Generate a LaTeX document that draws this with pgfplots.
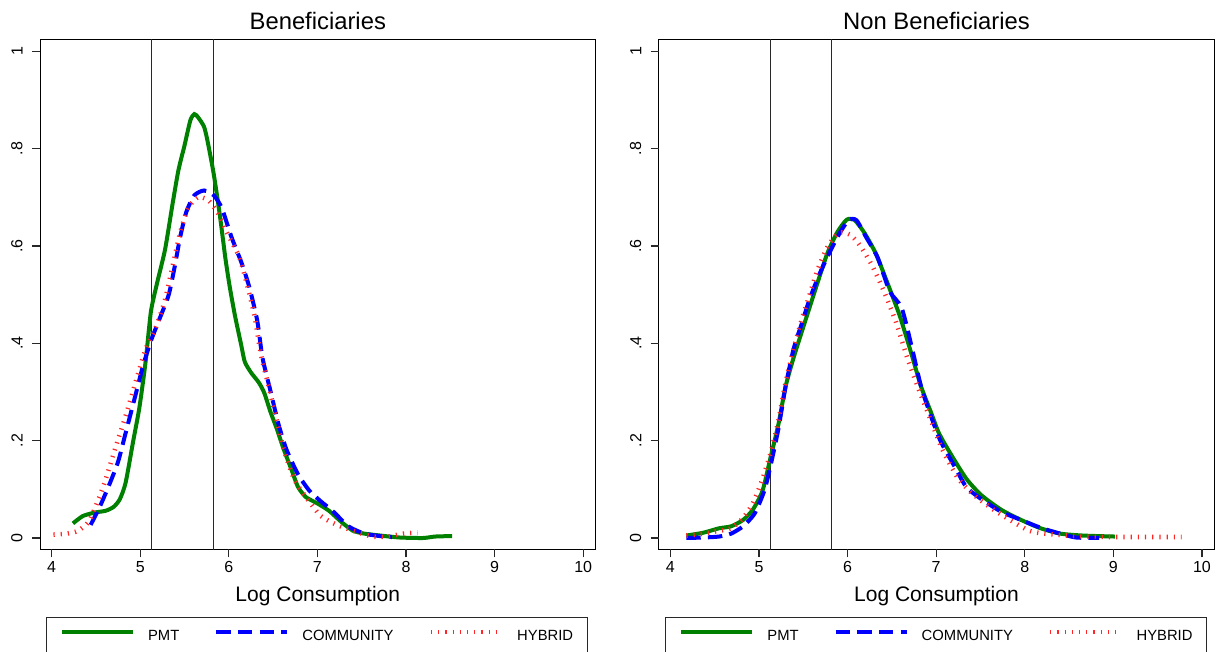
\documentclass[border=0pt]{standalone}
\usepackage{pgfplots}
\pgfplotsset{compat=1.18}
\usepackage{pgfplotstable}
\usepackage{fontspec}
\setmainfont{Liberation Sans}

\definecolor{stgreen}{RGB}{0,128,0}
\definecolor{stblue}{RGB}{0,0,255}
\definecolor{stred}{RGB}{255,0,0}
\definecolor{framegray}{RGB}{40,40,40}

% left panel: beneficiaries
\pgfplotstableread{
x y
4.24 0.030
4.35 0.045
4.48 0.052
4.61 0.056
4.70 0.064
4.77 0.080
4.835 0.114
4.92 0.199
4.99 0.268
5.06 0.362
5.12 0.465
5.19 0.524
5.28 0.593
5.365 0.687
5.43 0.755
5.50 0.807
5.565 0.858
5.61 0.871
5.65 0.865
5.72 0.845
5.76 0.815
5.83 0.747
5.90 0.661
5.96 0.576
6.01 0.516
6.07 0.456
6.14 0.396
6.18 0.362
6.25 0.340
6.34 0.319
6.40 0.298
6.47 0.259
6.54 0.225
6.62 0.182
6.71 0.139
6.78 0.105
6.87 0.084
7.00 0.071
7.13 0.056
7.27 0.033
7.40 0.015
7.53 0.009
7.71 0.005
7.93 0.001
8.19 0.000
8.33 0.003
8.52 0.004
}\benpmt

\pgfplotstableread{
x y
4.44 0.027
4.55 0.067
4.66 0.114
4.75 0.157
4.835 0.216
4.945 0.293
5.03 0.353
5.12 0.405
5.21 0.447
5.32 0.499
5.39 0.559
5.45 0.618
5.52 0.670
5.61 0.704
5.72 0.714
5.83 0.704
5.92 0.678
6.03 0.618
6.14 0.567
6.23 0.516
6.32 0.447
6.38 0.370
6.47 0.302
6.56 0.234
6.65 0.182
6.78 0.131
6.91 0.097
7.04 0.075
7.18 0.054
7.35 0.024
7.53 0.009
7.75 0.003
7.84 0.002
}\bencom

\pgfplotstableread{
x y
4.02 0.007
4.17 0.009
4.30 0.015
4.415 0.033
4.50 0.067
4.59 0.110
4.70 0.174
4.835 0.251
4.945 0.319
5.06 0.388
5.17 0.430
5.28 0.490
5.365 0.559
5.45 0.627
5.54 0.678
5.65 0.700
5.76 0.695
5.87 0.670
5.98 0.627
6.12 0.576
6.20 0.524
6.29 0.456
6.36 0.379
6.45 0.311
6.54 0.242
6.62 0.182
6.735 0.122
6.87 0.084
7.04 0.045
7.22 0.027
7.40 0.015
7.62 0.003
7.80 0.003
7.97 0.009
8.13 0.011
}\benhyb

% right panel: non beneficiaries
\pgfplotstableread{
x y
4.18 0.005
4.375 0.011
4.55 0.020
4.685 0.024
4.82 0.037
4.93 0.058
5.04 0.097
5.13 0.165
5.22 0.234
5.30 0.311
5.39 0.370
5.48 0.422
5.57 0.473
5.66 0.524
5.77 0.584
5.88 0.627
5.99 0.654
6.08 0.653
6.19 0.627
6.32 0.584
6.45 0.524
6.59 0.456
6.72 0.379
6.83 0.311
6.94 0.259
7.03 0.216
7.16 0.174
7.34 0.122
7.51 0.088
7.735 0.058
7.96 0.037
8.18 0.020
8.40 0.009
8.66 0.005
9.02 0.003
}\nonpmt

\pgfplotstableread{
x y
4.18 0.000
4.375 0.001
4.55 0.003
4.685 0.009
4.82 0.024
4.95 0.050
5.06 0.097
5.13 0.148
5.22 0.225
5.30 0.311
5.39 0.388
5.48 0.439
5.57 0.490
5.68 0.541
5.79 0.584
5.90 0.623
6.01 0.653
6.10 0.653
6.21 0.618
6.34 0.576
6.475 0.507
6.61 0.473
6.72 0.396
6.83 0.311
6.94 0.251
7.05 0.199
7.205 0.148
7.34 0.105
7.51 0.080
7.735 0.054
7.96 0.037
8.18 0.021
8.40 0.009
8.58 0.001
8.84 0.000
}\noncom

\pgfplotstableread{
x y
4.18 0.005
4.375 0.009
4.55 0.015
4.685 0.020
4.82 0.041
4.93 0.071
5.04 0.122
5.13 0.174
5.22 0.242
5.30 0.319
5.39 0.388
5.48 0.447
5.57 0.499
5.66 0.550
5.77 0.597
5.90 0.627
6.03 0.623
6.14 0.601
6.28 0.559
6.41 0.507
6.54 0.447
6.675 0.370
6.81 0.302
6.94 0.242
7.07 0.182
7.25 0.122
7.43 0.088
7.65 0.058
7.87 0.033
8.05 0.015
8.22 0.009
8.66 0.003
9.11 0.002
9.77 0.002
}\nonhyb

\pgfplotsset{
  panel/.style={
    scale only axis,
    width=277.8pt, height=255pt,
    anchor=south west,
    xmin=3.868, xmax=10.14,
    ymin=-0.0232, ymax=1.0247,
    clip mode=individual,
    xtick={4,5,...,10},
    ytick={0,0.2,0.4,0.6,0.8,1},
    yticklabels={0,.2,.4,.6,.8,1},
    xtick pos=bottom,
    ytick pos=left,
    tick align=outside,
    major tick length=4pt,
    tick style={solid, color=framegray, line width=0.6pt},
    /pgf/number format/assume math mode=true,
    tick label style={font=\fontsize{8}{9}\selectfont},
    yticklabel style={rotate=90, anchor=south, inner sep=4.5pt},
    xticklabel style={anchor=north, inner sep=2pt},
    every axis title/.style={font=\fontsize{11.9}{13}\selectfont, at={(axis description cs:0.5,1)}, anchor=base, yshift=5pt},
    xlabel style={font=\fontsize{10.5}{12}\selectfont, at={(axis description cs:0.5,0)}, anchor=base, yshift=-26.15pt},
    xlabel={Log Consumption},
    legend columns=3,
    legend image code/.code={\draw[#1] (0pt,2.5pt) -- (35.5pt,2.5pt);},
    legend style={
      draw=framegray, line width=0.5pt,
      anchor=north west,
      inner xsep=7pt, inner ysep=6.2pt,
      font=\fontsize{7.4}{8}\selectfont,
      nodes={inner sep=0pt},
      /tikz/every odd column/.append style={column sep=6.5pt},
      /tikz/every even column/.append style={column sep=17.5pt},
    },
    cutoff/.style={solid, framegray, line width=0.5pt, forget plot},
    pmt/.style={stgreen, line width=2pt, smooth, tension=0.4},
    com/.style={stblue, line width=2pt, dash pattern=on 7.2pt off 3.6pt, smooth, tension=0.4},
    hyb/.style={stred!85, line width=2.3pt, dash pattern=on 0.6pt off 3pt, smooth, tension=0.4},
  }
}
\tikzset{tk/.style={solid, framegray, line width=0.6pt}}

% tick marks drawn outside the frame, as Stata does
\newcommand{\panelticks}{%
  \pgfplotsinvokeforeach{4,5,6,7,8,9,10}{\draw[tk] (axis cs:##1,-0.0232) -- ++(0pt,-4pt);}%
  \pgfplotsinvokeforeach{0,0.2,0.4,0.6,0.8,1}{\draw[tk] (axis cs:3.868,##1) -- ++(-4pt,0pt);}%
}

\begin{document}
\begin{tikzpicture}
\useasboundingbox (0,0) rectangle (614pt,326pt);

\begin{axis}[panel, at={(20pt,51.35pt)}, title={Beneficiaries},
  legend style={at={(axis description cs:0.0101,-0.1327)}}]
  \addplot[cutoff] coordinates {(5.132,-0.1) (5.132,1.1)};
  \addplot[cutoff] coordinates {(5.824,-0.1) (5.824,1.1)};
  \addplot[pmt] table[x=x,y=y] {\benpmt};
  \addplot[com] table[x=x,y=y] {\bencom};
  \addplot[hyb] table[x=x,y=y] {\benhyb};
  \legend{PMT,COMMUNITY,HYBRID}
  \panelticks
\end{axis}

\begin{axis}[panel, at={(329.35pt,51.35pt)}, title={Non Beneficiaries},
  legend style={at={(axis description cs:0.0113,-0.1327)}}]
  \addplot[cutoff] coordinates {(5.132,-0.1) (5.132,1.1)};
  \addplot[cutoff] coordinates {(5.824,-0.1) (5.824,1.1)};
  \addplot[pmt] table[x=x,y=y] {\nonpmt};
  \addplot[com] table[x=x,y=y] {\noncom};
  \addplot[hyb] table[x=x,y=y] {\nonhyb};
  \legend{PMT,COMMUNITY,HYBRID}
  \panelticks
\end{axis}
\end{tikzpicture}
\end{document}
